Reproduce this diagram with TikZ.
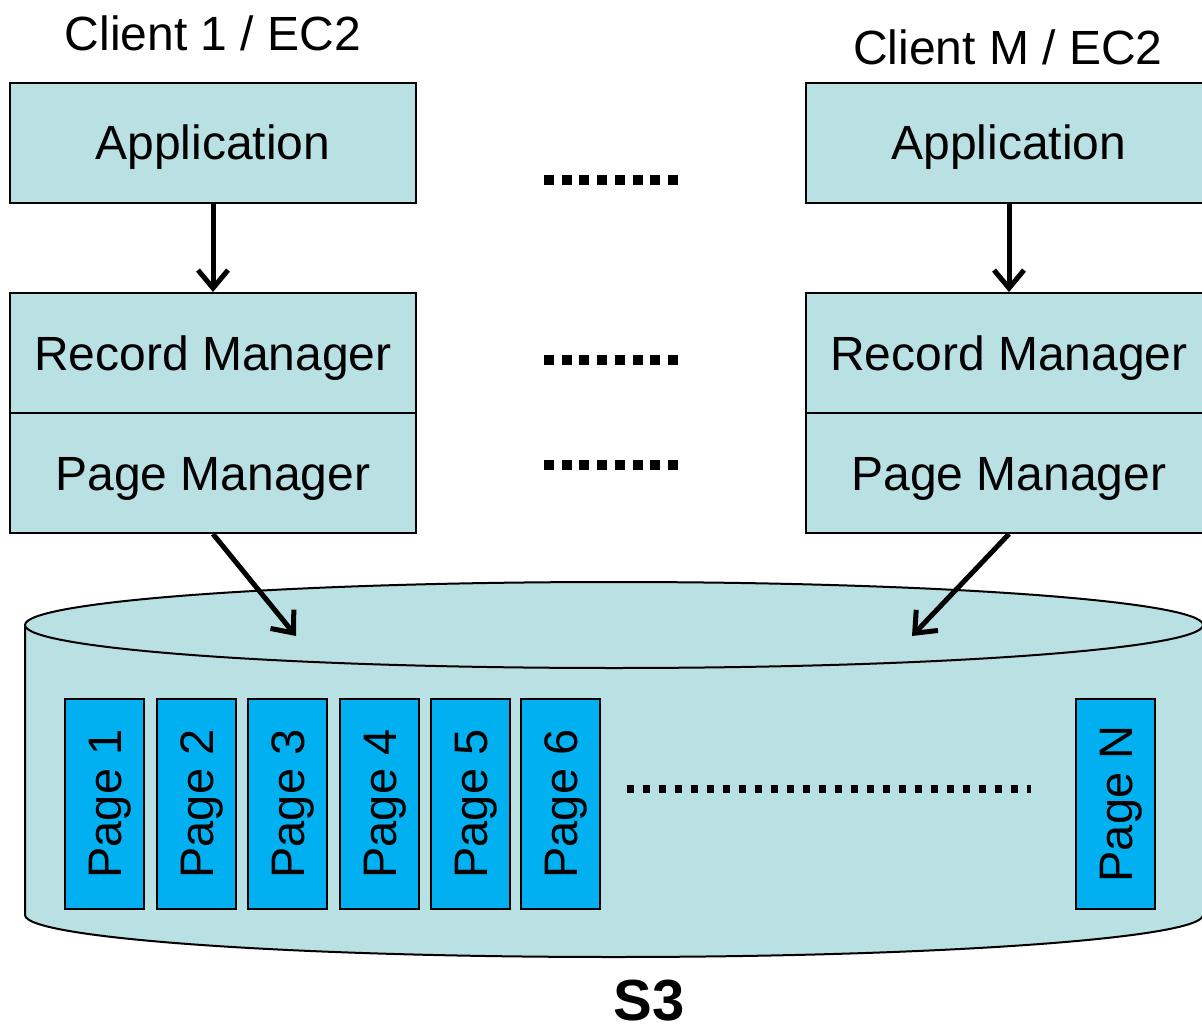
\documentclass[tikz,border=0pt]{standalone}
\usepackage{fontspec}
\setmainfont{Liberation Sans}
\usetikzlibrary{arrows.meta}
\definecolor{boxfill}{RGB}{185,224,227}
\definecolor{pagefill}{RGB}{0,176,240}
\begin{document}
\begin{tikzpicture}[x=1pt,y=-1pt,
  layer/.style={draw=black, line width=2pt, fill=boxfill, minimum width=406pt, minimum height=120pt, inner sep=0pt, font=\fontsize{48}{56}\selectfont, text height=34pt, text depth=0pt},
  pagebox/.style={draw=black, line width=2pt, fill=pagefill, rotate=90, minimum width=210pt, minimum height=79pt, inner sep=0pt, font=\fontsize{47}{55}\selectfont, text height=34pt, text depth=0pt},
  title/.style={inner sep=0pt, anchor=base, font=\fontsize{48}{56}\selectfont},
  connarrow/.style={draw=black, line width=5pt, -{Straight Barb[length=18pt,width=30pt]}},
  dotsA/.style={line width=10pt, dash pattern=on 10pt off 7.71pt},
  dotsB/.style={line width=8pt, dash pattern=on 7pt off 9pt},
  cyl/.style={fill=boxfill},
  cylline/.style={draw=black, line width=2pt}
]
\useasboundingbox (0,0) rectangle (1202,1027);
\clip (0,0) rectangle (1202,1027);

% S3 cylinder
\fill[cyl] (25,625) -- (25,915) arc[start angle=180,end angle=360,x radius=589pt,y radius=42pt] -- (1203,625) -- cycle;
\draw[cylline] (25,625) -- (25,915) arc[start angle=180,end angle=360,x radius=589pt,y radius=42pt] -- (1203,625);
\draw[cyl,cylline] (614,625) ellipse [x radius=589pt, y radius=43pt];
\coordinate (in1) at (296,636);
\coordinate (inM) at (912,636);

% pages
\node[pagebox] (pg1) at (104.5,804) {Page 1};
\node[pagebox] (pg2) at (196,804) {Page 2};
\node[pagebox] (pg3) at (287.5,804) {Page 3};
\node[pagebox] (pg4) at (379,804) {Page 4};
\node[pagebox] (pg5) at (470.5,804) {Page 5};
\node[pagebox] (pg6) at (560.5,804) {Page 6};
\node[pagebox] (pgN) at (1115.5,804) {Page N};
\draw[dotsB] (626.5,789) -- (1031,789);

% titles
\node[title] (t1) at (213,51) {Client 1 / EC2};
\node[title] (tM) at (1008,65) {Client M / EC2};

% client 1
\node[layer] (a1) at (213,143) {Application};
\node[layer] (r1) at (213,353) {Record Manager};
\node[layer] (p1) at (213,473) {Page Manager};

% client M
\node[layer] (aM) at (1009,143) {Application};
\node[layer] (rM) at (1009,353) {Record Manager};
\node[layer] (pM) at (1009,473) {Page Manager};

% dotted separators
\draw[dotsA] (544,180) -- (678,180);
\draw[dotsA] (544,360) -- (678,360);
\draw[dotsA] (544,465) -- (678,465);

% arrows
\draw[connarrow] (a1.south) -- (r1.north);
\draw[connarrow] (aM.south) -- (rM.north);
\draw[connarrow] (p1.south) -- (in1);
\draw[connarrow] (pM.south) -- (inM);

% label
\node[inner sep=0pt, anchor=base, font=\fontsize{58}{66}\selectfont\bfseries] (s3) at (649,1020) {S3};
\end{tikzpicture}
\end{document}
